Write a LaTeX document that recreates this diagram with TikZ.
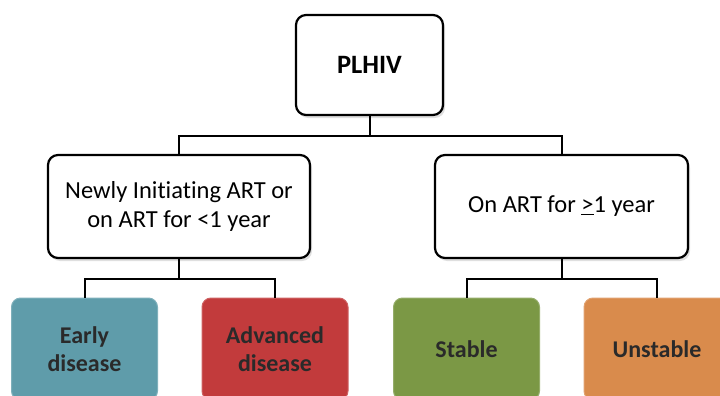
\documentclass[tikz,border=0pt]{standalone}
\usepackage{fontspec}
\setmainfont{Carlito}[Ligatures=NoCommon]
\usetikzlibrary{shadows}

\definecolor{earlyc}{HTML}{5F9CAA}
\definecolor{advc}{HTML}{C23B3C}
\definecolor{stablec}{HTML}{7B9845}
\definecolor{unstablec}{HTML}{D98B4C}
\definecolor{labelc}{HTML}{2A2A2A}

\begin{document}
\begin{tikzpicture}[x=1pt,y=-1pt,
    whitebox/.style={draw=black,line width=2.2pt,fill=white,rounded corners=10pt,align=center,
        drop shadow={opacity=0.25,shadow xshift=2pt,shadow yshift=-3pt},
        font=\fontsize{24.5}{29}\selectfont},
    colbox/.style={draw=#1!80!white,line width=1pt,fill=#1,rounded corners=9pt,align=center,
        minimum width=146pt,minimum height=102pt,text=labelc,
        font=\fontsize{24}{27.5}\selectfont\bfseries},
    link/.style={line width=2pt,draw=black}]

\useasboundingbox (0,0) rectangle (720,396);

\node[whitebox,minimum width=147pt,minimum height=100pt,font=\fontsize{26.5}{30}\selectfont\bfseries]
    (plhiv) at (369.5,65) {PLHIV};
\node[whitebox,minimum width=262pt,minimum height=103pt] (newart) at (179,206.5)
    {Newly Initiating ART or\\on ART for <1 year};
\node[whitebox,minimum width=253pt,minimum height=103pt] (oldart) at (561.5,206.5)
    {On ART for \underline{>}1 year};

\node[colbox=earlyc] (early) at (84.5,349) {Early\\disease};
\node[colbox=advc] (advanced) at (275,349) {Advanced\\disease};
\node[colbox=stablec] (stable) at (466.5,349) {Stable};
\node[colbox=unstablec] (unstable) at (657,349) {Unstable};

\draw[link] (plhiv.south) -- ++(0,20) coordinate (j1);
\draw[link] (newart.north) |- (j1) -| (oldart.north);
\draw[link] (newart.south) -- ++(0,20) coordinate (j2);
\draw[link] (early.north) |- (j2) -| (advanced.north);
\draw[link] (oldart.south) -- ++(0,20) coordinate (j3);
\draw[link] (stable.north) |- (j3) -| (unstable.north);

\end{tikzpicture}
\end{document}
